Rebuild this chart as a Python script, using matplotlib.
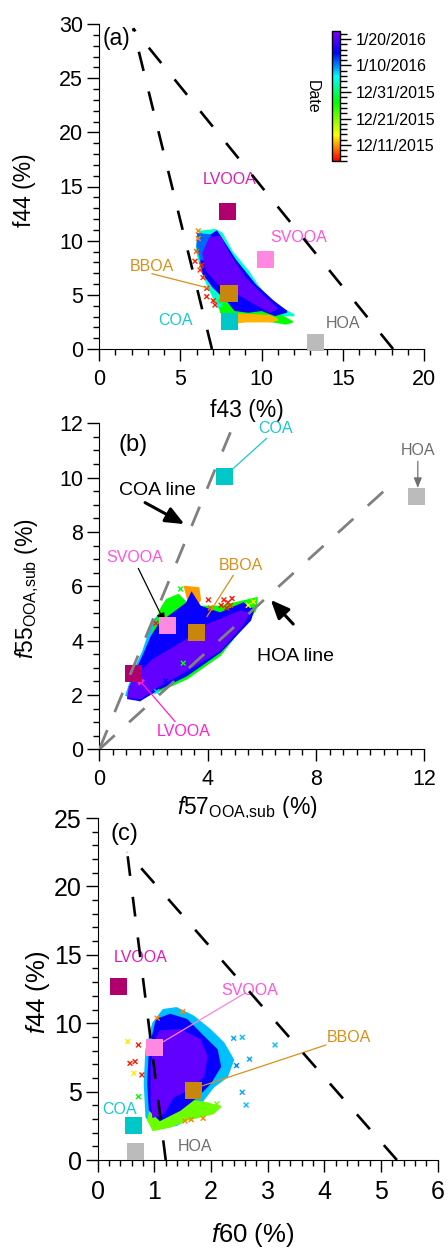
import datetime as dt

import numpy as np
import matplotlib
matplotlib.use('Agg')
import matplotlib.pyplot as plt
import matplotlib.dates as mdates
from matplotlib.colors import LinearSegmentedColormap, Normalize
from matplotlib.cm import ScalarMappable
from matplotlib.ticker import MultipleLocator

plt.rcParams['font.family'] = ['Liberation Sans', 'DejaVu Sans']
plt.rcParams['mathtext.fontset'] = 'custom'
plt.rcParams['mathtext.rm'] = 'Liberation Sans'
plt.rcParams['mathtext.it'] = 'Liberation Sans:italic'

# ---- PMF factor profiles ----
sources = ['LVOOA', 'SVOOA', 'BBOA', 'COA', 'HOA']
marker_colors = ['#b0006e', '#ff88e0', '#c8860a', '#00c8c8', '#bbbbbb']
text_colors = ['#dd1cb8', '#ff55dd', '#d8901a', '#18c8d2', '#6e6e6e']
f43_src = [7.9, 10.25, 8.0, 8.05, 13.3]
f44_src = [12.7, 8.25, 5.1, 2.5, 0.63]
f57_src = [1.25, 2.5, 3.6, 4.63, 11.72]
f55_src = [2.8, 4.57, 4.3, 10.05, 9.32]
f60_src = [0.36, 1.01, 1.69, 0.64, 0.66]

# ---- colorbar (date) ----
date_min = '2015-12-05'
date_max = '2016-01-23'
cbar_tick_dates = ['2015-12-11', '2015-12-21', '2015-12-31', '2016-01-10', '2016-01-20']
cbar_tick_labels = ['12/11/2015', '12/21/2015', '12/31/2015', '1/10/2016', '1/20/2016']

# ---- measured clouds, read as layered outlines (date of the dominant colour) ----
cloud_a_dates = ['2016-01-04', '2015-12-27', '2015-12-12', '2016-01-15', '2016-01-11', '2016-01-21']
cloud_a_f43 = [
    [6.22, 7.14, 7.55, 8.17, 9.19, 9.80, 10.42, 11.24, 12.0, 11.03, 9.40, 8.78, 7.75, 7.34, 6.73, 6.32, 6.01],
    [7.4, 8.0, 9.5, 10.8, 11.9, 11.5, 10.0, 8.5, 7.5],
    [8.5, 9.2, 10.5, 11.0, 10.6, 9.0, 8.5],
    [6.6, 7.24, 8.37, 9.6, 10.73, 11.55, 10.83, 10.01, 9.19, 8.37, 7.96, 7.03, 6.42, 6.22],
    [6.1, 6.8, 7.0, 6.6, 6.25, 6.05],
    [6.83, 7.45, 7.96, 8.98, 10.01, 10.93, 10.52, 9.40, 8.37, 7.34, 6.63, 6.42],
]
cloud_a_f44 = [
    [10.83, 10.98, 10.68, 8.98, 7.13, 5.75, 4.68, 3.76, 3.1, 3.14, 3.44, 3.2, 3.29, 3.90, 5.75, 7.29, 9.14],
    [4.6, 4.0, 4.0, 3.4, 2.5, 2.35, 2.7, 2.8, 3.4],
    [3.2, 3.15, 3.05, 2.7, 2.55, 2.55, 2.45],
    [10.2, 10.83, 8.21, 5.91, 4.37, 3.44, 3.14, 3.60, 3.44, 3.60, 4.37, 5.75, 6.98, 8.83],
    [10.6, 10.5, 9.3, 8.2, 8.3, 9.5],
    [10.22, 10.37, 8.83, 6.52, 4.98, 3.75, 3.44, 4.37, 5.29, 6.06, 7.29, 8.83],
]
pts_a_f43 = [5.91, 6.32, 6.22, 6.63, 6.63, 7.03, 7.14, 6.11, 6.17, 6.11, 7.45, 6.0, 6.4, 8.3]
pts_a_f44 = [8.1, 7.75, 7.29, 5.6, 4.83, 4.45, 4.06, 10.9, 10.45, 10.2, 4.06, 9.0, 6.6, 2.4]
pts_a_date = ['2015-12-06', '2015-12-06', '2015-12-07', '2015-12-06', '2015-12-06', '2015-12-06',
              '2015-12-06', '2015-12-10', '2016-01-11', '2015-12-10', '2016-01-06', '2015-12-09',
              '2015-12-07', '2015-12-11']

cloud_b_dates = ['2016-01-08', '2015-12-27', '2015-12-11', '2016-01-15', '2016-01-21']
cloud_b_f57 = [
    [1.0, 1.3, 1.62, 1.99, 2.36, 2.8, 2.6, 2.0, 1.5],
    [1.99, 2.3, 2.49, 2.92, 3.23, 3.72, 4.46, 5.81, 5.76, 4.46, 3.23, 2.12],
    [3.16, 3.66, 3.72, 3.53, 3.28],
    [1.07, 1.26, 1.62, 1.93, 2.24, 2.73, 3.23, 3.41, 3.72, 4.46, 5.32, 5.69, 5.57, 4.46, 3.23, 2.12, 1.5],
    [1.07, 1.5, 2.12, 3.23, 4.46, 5.32, 5.5, 5.2, 4.46, 3.84, 3.23, 2.61, 1.99, 1.5, 1.13],
]
cloud_b_f55 = [
    [2.0, 2.9, 3.6, 4.7, 5.1, 5.0, 3.9, 2.6, 1.8],
    [4.39, 5.2, 5.5, 5.68, 5.37, 5.25, 5.25, 5.56, 5.13, 3.47, 2.61, 2.11],
    [5.98, 5.93, 5.5, 5.19, 5.5],
    [1.88, 2.67, 3.41, 4.14, 4.64, 5.0, 5.37, 5.74, 5.25, 5.0, 5.37, 5.13, 4.76, 3.59, 2.73, 2.18, 1.81],
    [1.94, 1.88, 2.30, 2.92, 3.65, 4.64, 5.0, 5.07, 4.76, 4.51, 4.02, 3.65, 3.29, 2.80, 2.30],
]
pts_b_f57 = [4.5, 4.6, 4.75, 4.9, 4.85, 4.03, 4.1, 4.7, 5.69, 5.5, 2.45, 2.12, 3.1, 2.09, 3.0]
pts_b_f55 = [5.3, 5.5, 5.4, 5.55, 5.3, 5.5, 5.2, 5.2, 5.43, 5.3, 2.52, 2.12, 3.17, 4.64, 5.9]
pts_b_date = ['2015-12-06', '2015-12-06', '2015-12-06', '2015-12-06', '2015-12-07', '2015-12-06',
              '2015-12-09', '2015-12-06', '2015-12-14', '2015-12-15', '2016-01-15', '2016-01-07',
              '2015-12-27', '2015-12-06', '2015-12-27']

cloud_c_dates = ['2016-01-08', '2015-12-22', '2016-01-15', '2016-01-21']
cloud_c_f60 = [
    [1.16, 1.39, 1.69, 1.98, 2.22, 2.39, 2.28, 2.04, 1.86, 1.75, 1.39, 0.98, 0.86, 0.83, 0.86, 0.98],
    [0.98, 1.57, 1.92, 2.16, 2.04, 1.57, 1.28, 0.98, 0.89],
    [1.04, 1.28, 1.57, 1.86, 2.1, 2.16, 1.98, 1.75, 1.45, 1.1, 0.92, 0.89, 0.92],
    [1.1, 1.45, 1.8, 1.92, 1.86, 1.57, 1.33, 1.16, 0.98, 0.95, 0.95, 1.01],
]
cloud_c_f44 = [
    [10.97, 11.1, 10.48, 9.51, 8.54, 7.32, 6.09, 5.36, 4.39, 3.42, 2.56, 2.32, 3.17, 5.61, 8.05, 10.0],
    [4.39, 4.39, 4.15, 3.9, 3.42, 2.93, 2.44, 2.19, 2.93],
    [10.24, 10.61, 10.24, 9.02, 8.05, 6.83, 5.61, 4.63, 3.66, 2.93, 3.66, 5.61, 8.05],
    [9.4, 9.5, 8.78, 7.56, 6.09, 5.12, 4.63, 3.42, 3.17, 4.39, 6.83, 8.54],
]
pts_c_f60 = [2.55, 3.13, 2.68, 2.55, 2.62, 2.4, 2.45, 0.53, 0.72, 0.57, 0.66, 0.64, 0.78,
             0.72, 1.5, 1.05, 1.54, 1.65, 1.86, 2.1]
pts_c_f44 = [8.97, 8.41, 7.37, 4.95, 4.02, 8.9, 6.9, 8.66, 8.41, 7.07, 7.19, 6.34, 6.22,
             4.63, 10.85, 10.37, 2.85, 2.95, 3.05, 4.1]
pts_c_date = ['2016-01-08', '2016-01-08', '2016-01-09', '2016-01-09', '2016-01-08', '2016-01-09',
              '2016-01-10', '2015-12-14', '2015-12-06', '2015-12-06', '2015-12-06', '2015-12-14',
              '2015-12-06', '2015-12-27', '2015-12-10', '2015-12-10', '2015-12-10', '2015-12-10',
              '2015-12-10', '2015-12-22']


def to_num(dates):
    return mdates.date2num([dt.datetime.strptime(d, '%Y-%m-%d') for d in dates])


cmap = LinearSegmentedColormap.from_list(
    'igor_rainbow',
    [(0.0, '#ff0000'), (0.1, '#ff8000'), (0.2, '#ffff00'), (0.45, '#00ff00'),
     (0.65, '#00ffff'), (0.83, '#0000ff'), (1.0, '#8000ff')])
norm = Normalize(vmin=to_num([date_min])[0], vmax=to_num([date_max])[0])


def draw_cloud(ax, dates, xs, ys, px, py, pdates):
    for d, x, y in zip(to_num(dates), xs, ys):
        c = cmap(norm(d))
        ax.fill(x, y, color=c, ec=c, lw=1.5, zorder=2)
    ax.scatter(px, py, c=to_num(pdates), cmap=cmap, norm=norm, marker='x', s=12,
               linewidths=1.0, zorder=3)


def style_axes(ax, labelsize):
    ax.spines['top'].set_visible(False)
    ax.spines['right'].set_visible(False)
    ax.tick_params(which='major', direction='out', length=8.5, width=1, labelsize=labelsize)
    ax.tick_params(which='minor', direction='out', length=4.5, width=1)
    ax.tick_params(axis='x', which='major', pad=6)
    ax.tick_params(axis='y', which='major', pad=3)


def draw_sources(ax, xs, ys):
    ax.scatter(xs, ys, marker='s', s=150, c=marker_colors, linewidths=0, zorder=4, clip_on=False)


fig = plt.figure(figsize=(4.48, 12.48), dpi=100)
tri_dash = (0, (7.5, 8))
gray_dash = (0, (7.5, 7))

# ---------------- (a) f44 vs f43 ----------------
ax1 = fig.add_axes([99 / 448, 1 - 349 / 1248, 325 / 448, 325 / 1248])
draw_cloud(ax1, cloud_a_dates, cloud_a_f43, cloud_a_f44, pts_a_f43, pts_a_f44, pts_a_date)
draw_sources(ax1, f43_src, f44_src)
ax1.plot([6.95, 2.1], [0, 29.6], color='black', lw=1.9, ls=tri_dash, zorder=5)
ax1.plot([18.1, 2.1], [0, 29.6], color='black', lw=1.9, ls=tri_dash, zorder=5)
ax1.text(8.06, 15.6, 'LVOOA', color=text_colors[0], fontsize=11.5, ha='center', va='center')
ax1.text(12.3, 10.3, 'SVOOA', color=text_colors[1], fontsize=11.5, ha='center', va='center')
ax1.text(3.25, 7.65, 'BBOA', color=text_colors[2], fontsize=11.5, ha='center', va='center')
ax1.text(4.7, 2.6, 'COA', color=text_colors[3], fontsize=11.5, ha='center', va='center')
ax1.text(15.0, 2.4, 'HOA', color=text_colors[4], fontsize=11.5, ha='center', va='center')
ax1.annotate('', xy=(6.8, 5.6), xytext=(3.25, 6.95),
             arrowprops=dict(arrowstyle='-', color=text_colors[2], lw=0.9, shrinkA=0, shrinkB=0))
ax1.text(1.1, 28.7, '(a)', fontsize=16.5, ha='center', va='center')
ax1.set_xlim(0, 20)
ax1.set_ylim(0, 30)
ax1.xaxis.set_major_locator(MultipleLocator(5))
ax1.xaxis.set_minor_locator(MultipleLocator(1))
ax1.yaxis.set_major_locator(MultipleLocator(5))
ax1.yaxis.set_minor_locator(MultipleLocator(1))
style_axes(ax1, 15.5)
ax1.set_xlabel('f43 (%)', fontsize=16.5, va='center')
ax1.set_ylabel('f44 (%)', fontsize=16.5, va='center')
ax1.xaxis.set_label_coords(0.455, -0.188)
ax1.yaxis.set_label_coords(-0.228, 0.489)

# colorbar
cax = fig.add_axes([332 / 448, 1 - 161 / 1248, 8 / 448, 130 / 1248])
cb = fig.colorbar(ScalarMappable(norm=norm, cmap=cmap), cax=cax)
cb.set_ticks(to_num(cbar_tick_dates), labels=cbar_tick_labels)
cb.set_ticks(np.arange(norm.vmin, norm.vmax + 0.1, 2.0), minor=True)
cb.outline.set_linewidth(1.0)
cax.tick_params(which='major', direction='out', length=8, width=1, labelsize=11.5, pad=3)
cax.tick_params(which='minor', direction='out', length=5, width=1)
fig.text(312 / 448, 1 - 97 / 1248, 'Date', rotation=270, fontsize=11.5, ha='center', va='center')

# ---------------- (b) f55 vs f57 ----------------
ax2 = fig.add_axes([99.3 / 448, 1 - 749.3 / 1248, 325 / 448, 326 / 1248])
draw_cloud(ax2, cloud_b_dates, cloud_b_f57, cloud_b_f55, pts_b_f57, pts_b_f55, pts_b_date)
ax2.plot([0, 5.0], [0, 12.05], color='#808080', lw=2.0, ls=gray_dash, zorder=5)
ax2.plot([0, 11.0], [0, 9.95], color='#808080', lw=2.0, ls=gray_dash, zorder=5)
ax2.annotate('', xy=(4.95, 10.34), xytext=(6.18, 11.45),
             arrowprops=dict(arrowstyle='-', color=text_colors[3], lw=0.9, shrinkA=0, shrinkB=0))
ax2.annotate('', xy=(11.76, 9.62), xytext=(11.76, 10.6),
             arrowprops=dict(arrowstyle='-|>,head_length=0.5,head_width=0.2', color='#707070',
                             lw=0.9, shrinkA=0, shrinkB=0, mutation_scale=12))
ax2.annotate('', xy=(2.43, 4.64), xytext=(1.44, 6.66),
             arrowprops=dict(arrowstyle='-|>,head_length=0.5,head_width=0.2', color='black',
                             lw=0.9, shrinkA=0, shrinkB=0, mutation_scale=12))
ax2.annotate('', xy=(3.97, 4.88), xytext=(4.95, 6.41),
             arrowprops=dict(arrowstyle='-', color=text_colors[2], lw=0.9, shrinkA=0, shrinkB=0))
ax2.annotate('', xy=(1.32, 2.73), xytext=(2.8, 1.02),
             arrowprops=dict(arrowstyle='-|>,head_length=0.5,head_width=0.2', color='#ff20d0',
                             lw=0.9, shrinkA=0, shrinkB=0, mutation_scale=12))
ax2.annotate('', xy=(3.14, 8.29), xytext=(1.69, 9.08),
             arrowprops=dict(arrowstyle='-|>,head_length=0.7,head_width=0.3', color='black',
                             lw=2.2, shrinkA=0, shrinkB=0, mutation_scale=16))
ax2.annotate('', xy=(6.33, 5.5), xytext=(7.16, 4.61),
             arrowprops=dict(arrowstyle='-|>,head_length=0.7,head_width=0.3', color='black',
                             lw=2.2, shrinkA=0, shrinkB=0, mutation_scale=16))
draw_sources(ax2, f57_src, f55_src)
ax2.text(6.52, 11.81, 'COA', color=text_colors[3], fontsize=11.5, ha='center', va='center')
ax2.text(11.76, 10.99, 'HOA', color=text_colors[4], fontsize=11.5, ha='center', va='center')
ax2.text(1.32, 7.05, 'SVOOA', color=text_colors[1], fontsize=11.5, ha='center', va='center')
ax2.text(5.22, 6.76, 'BBOA', color=text_colors[2], fontsize=11.5, ha='center', va='center')
ax2.text(3.1, 0.65, 'LVOOA', color='#ff20d0', fontsize=11.5, ha='center', va='center')
ax2.text(2.14, 9.52, 'COA line', fontsize=14, ha='center', va='center')
ax2.text(7.26, 3.41, 'HOA line', fontsize=14, ha='center', va='center')
ax2.text(1.24, 11.2, '(b)', fontsize=17, ha='center', va='center')
ax2.set_xlim(0, 12)
ax2.set_ylim(0, 12)
ax2.xaxis.set_major_locator(MultipleLocator(4))
ax2.xaxis.set_minor_locator(MultipleLocator(0.5))
ax2.yaxis.set_major_locator(MultipleLocator(2))
ax2.yaxis.set_minor_locator(MultipleLocator(0.5))
style_axes(ax2, 15.5)
ax2.set_xlabel(r'$\it{f}$57$_{\rm OOA{,}sub}$ (%)', fontsize=16.5, va='center')
ax2.set_ylabel(r'$\it{f}$55$_{\rm OOA{,}sub}$ (%)', fontsize=16.5, va='center')
ax2.xaxis.set_label_coords(0.456, -0.18)
ax2.yaxis.set_label_coords(-0.222, 0.492)

# ---------------- (c) f44 vs f60 ----------------
ax3 = fig.add_axes([97.7 / 448, 1 - 1160 / 1248, 340 / 448, 342 / 1248])
draw_cloud(ax3, cloud_c_dates, cloud_c_f60, cloud_c_f44, pts_c_f60, pts_c_f44, pts_c_date)
draw_sources(ax3, f60_src, f44_src)
ax3.plot([1.2, 0.52], [0, 22.5], color='black', lw=1.9, ls=tri_dash, zorder=5)
ax3.plot([5.28, 0.52], [0, 22.5], color='black', lw=1.9, ls=tri_dash, zorder=5)
ax3.annotate('', xy=(1.16, 8.65), xytext=(2.6, 12.2),
             arrowprops=dict(arrowstyle='-', color='#ff80e0', lw=0.9, shrinkA=0, shrinkB=0))
ax3.annotate('', xy=(1.84, 5.41), xytext=(4.03, 8.41),
             arrowprops=dict(arrowstyle='-', color=text_colors[2], lw=0.9, shrinkA=0, shrinkB=0))
ax3.text(0.75, 14.8, 'LVOOA', color=text_colors[0], fontsize=11.5, ha='center', va='center')
ax3.text(2.69, 12.39, 'SVOOA', color=text_colors[1], fontsize=11.5, ha='center', va='center')
ax3.text(4.44, 8.98, 'BBOA', color=text_colors[2], fontsize=11.5, ha='center', va='center')
ax3.text(0.38, 3.66, 'COA', color=text_colors[3], fontsize=11.5, ha='center', va='center')
ax3.text(1.71, 0.98, 'HOA', color=text_colors[4], fontsize=11.5, ha='center', va='center')
ax3.text(0.48, 23.8, '(c)', fontsize=17, ha='center', va='center')
ax3.set_xlim(0, 6)
ax3.set_ylim(0, 25)
ax3.xaxis.set_major_locator(MultipleLocator(1))
ax3.xaxis.set_minor_locator(MultipleLocator(0.2))
ax3.yaxis.set_major_locator(MultipleLocator(5))
ax3.yaxis.set_minor_locator(MultipleLocator(1))
style_axes(ax3, 18)
ax3.set_xlabel(r'$\it{f}$60 (%)', fontsize=18.5, va='center')
ax3.set_ylabel(r'$\it{f}$44 (%)', fontsize=18.5, va='center')
ax3.xaxis.set_label_coords(0.457, -0.219)
ax3.yaxis.set_label_coords(-0.176, 0.49)

fig.savefig('out.png', dpi=100)
